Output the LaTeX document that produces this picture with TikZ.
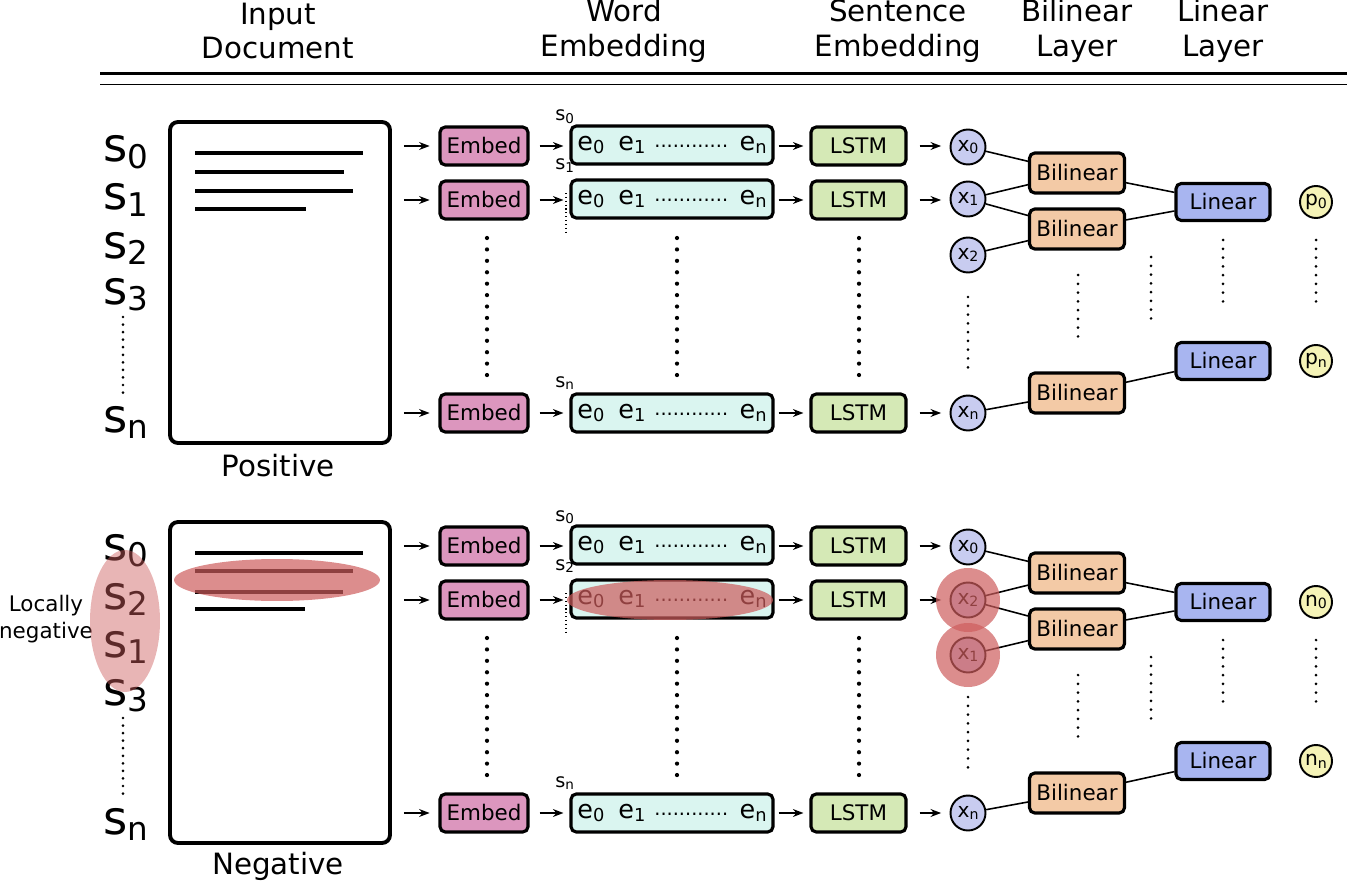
\documentclass[tikz,border=0pt]{standalone}
\usepackage{fontspec}
\setmainfont{DejaVu Sans}
\usetikzlibrary{arrows.meta}

\definecolor{embedcol}{RGB}{220,150,190}
\definecolor{wordcol}{RGB}{218,245,240}
\definecolor{lstmcol}{RGB}{213,233,182}
\definecolor{xcol}{RGB}{200,204,240}
\definecolor{bilcol}{RGB}{243,202,166}
\definecolor{lincol}{RGB}{168,181,240}
\definecolor{pcol}{RGB}{245,243,183}
\definecolor{hlcol}{RGB}{205,92,92}

\newcommand\fs[2]{\fontsize{#1}{#2}\selectfont}
\newcommand\sbx[1]{\raisebox{-0.25ex}{\scalebox{0.7}{#1}}}
\newcommand\wrow{e\sbx{0}\hspace{0.55em}e\sbx{1}\hspace{0.35em}\raisebox{0.2ex}{\fs{11}{11}............}\hspace{0.45em}e\sbx{n}}

\tikzset{
  head/.style={align=center, inner sep=0pt, font=\fs{16.7}{19.8}},
  box/.style={draw, line width=1.8pt, rounded corners=3pt, minimum height=0.76cm, inner sep=0pt, font=\fs{12.2}{14}},
  embedbox/.style={box, fill=embedcol, minimum width=1.76cm},
  wordbox/.style={box, fill=wordcol, minimum width=4.04cm, font=\fs{14.5}{16}},
  lstmbox/.style={box, fill=lstmcol, minimum width=1.9cm},
  bilbox/.style={box, fill=bilcol, minimum width=1.9cm, minimum height=0.8cm},
  linbox/.style={box, fill=lincol, minimum width=1.88cm, minimum height=0.74cm},
  docbox/.style={draw, line width=2.2pt, rounded corners=4.5pt, minimum width=4.4cm, minimum height=6.42cm},
  xnode/.style={circle, draw, line width=1.1pt, fill=xcol, minimum size=0.7cm, inner sep=0pt, font=\fs{11.5}{12}},
  pnode/.style={circle, draw, line width=1.1pt, fill=pcol, minimum size=0.64cm, inner sep=0pt, font=\fs{11.5}{12}},
  slabel/.style={anchor=base west, inner sep=0pt, font=\fs{26.5}{30}},
  wlabel/.style={anchor=base west, inner sep=0pt, font=\fs{11}{12}},
  doctext/.style={line width=2.2pt},
  arr/.style={-{Stealth[length=6pt,width=4.5pt]}, line width=0.8pt},
  toembed/.style={shorten <=6.8pt, shorten >=5pt},
  toword/.style={shorten <=5.7pt, shorten >=3.4pt},
  tolstm/.style={shorten <=2.3pt, shorten >=3.4pt},
  tox/.style={shorten <=6.8pt, shorten >=4.8pt},
  conn/.style={line width=0.9pt},
  bigdots/.style={line width=2.4pt, line cap=round, dash pattern=on 0pt off 6.5pt},
  smalldots/.style={line width=1.7pt, line cap=round, dash pattern=on 0pt off 5pt},
  sdots/.style={line width=1.7pt, line cap=round, dash pattern=on 0pt off 4.3pt},
  finedots/.style={line width=0.6pt, dash pattern=on 0.6pt off 1.6pt},
  hl/.style={fill=hlcol, fill opacity=0.7}
}

\begin{document}
\begin{tikzpicture}[x=0.02cm, y=-0.02cm]
  \useasboundingbox (0,0) rectangle (1347,892);

  % header
  \node[head] (hdoc) at (278,31) {Input\\Document};
  \node[head] (hword) at (624,31) {Word\\Embedding};
  \node[head] (hsent) at (898,31) {Sentence\\Embedding};
  \node[head] (hbil) at (1077,31) {Bilinear\\Layer};
  \node[head] (hlin) at (1223,31) {Linear\\Layer};
  \draw[line width=2pt] (100,73.5) -- (1347,73.5);
  \draw[line width=1pt] (100,84.5) -- (1347,84.5);

  % positive document
  \begin{scope}[every node/.style={slabel}]
    \node (s0) at (103,162) {s\sbx{0}};
    \node (s1) at (103,210) {s\sbx{1}};
    \node (s2) at (103,258) {s\sbx{2}};
    \node (s3) at (103,304) {s\sbx{3}};
    \node (sn) at (103,432) {s\sbx{n}};
  \end{scope}
  \draw[sdots] (123,317) -- (123,393);
  \node[docbox] (D) at (280,282.5) {};
  \draw[doctext] (195,153) -- (363,153);
  \draw[doctext] (195,172) -- (344,172);
  \draw[doctext] (195,191) -- (353,191);
  \draw[doctext] (195,209) -- (306,209);
  \node[head] (pos) at (278,466) {Positive};

  \begin{scope}[every node/.style={embedbox}]
    \node (E0) at (484,146) {Embed};
    \node (E1) at (484,200) {Embed};
    \node (En) at (484,413) {Embed};
  \end{scope}
  \begin{scope}[every node/.style={wordbox}]
    \node (W0) at (672,145) {\wrow};
    \node (W1) at (672,199) {\wrow};
    \node (Wn) at (672,413) {\wrow};
  \end{scope}
  \begin{scope}[every node/.style={wlabel}]
    \node (w0) at (555,121) {s\sbx{0}};
    \node (w1) at (555,170) {s\sbx{1}};
    \node (wn) at (555,387) {s\sbx{n}};
  \end{scope}
  \draw[finedots] (566,193) -- (566,232);
  \begin{scope}[every node/.style={lstmbox}]
    \node (M0) at (858.5,146) {LSTM};
    \node (M1) at (858.5,200) {LSTM};
    \node (Mn) at (858.5,413) {LSTM};
  \end{scope}
  \begin{scope}[every node/.style={xnode}]
    \node (X0) at (968,147) {x\sbx{0}};
    \node (X1) at (968,199) {x\sbx{1}};
    \node (X2) at (968,255) {x\sbx{2}};
    \node (Xn) at (968,413) {x\sbx{n}};
  \end{scope}
  \begin{scope}[every node/.style={bilbox}]
    \node (B1) at (1077,173) {Bilinear};
    \node (B2) at (1077,229) {Bilinear};
    \node (Bn) at (1077,393) {Bilinear};
  \end{scope}
  \begin{scope}[every node/.style={linbox}]
    \node (Q0) at (1223,202) {Linear};
    \node (Qn) at (1223,361) {Linear};
  \end{scope}
  \begin{scope}[every node/.style={pnode}]
    \node (P0) at (1316,202) {p\sbx{0}};
    \node (Pn) at (1316,361) {p\sbx{n}};
  \end{scope}

  \begin{scope}[every edge/.style={draw, arr}]
    \path (D.east |- E0) edge[toembed] (E0);
    \path (D.east |- E1) edge[toembed] (E1);
    \path (D.east |- En) edge[toembed] (En);
    \path (E0) edge[toword] (W0.west |- E0);
    \path (E1) edge[toword] (W1.west |- E1);
    \path (En) edge[toword] (Wn.west |- En);
    \path (W0.east |- M0) edge[tolstm] (M0);
    \path (W1.east |- M1) edge[tolstm] (M1);
    \path (Wn.east |- Mn) edge[tolstm] (Mn);
    \path (M0) edge[tox] (X0.west |- M0);
    \path (M1) edge[tox] (X1.west |- M1);
    \path (Mn) edge[tox] (Xn.west |- Mn);
  \end{scope}
  \begin{scope}[every edge/.style={draw, conn}]
    \path (X0) edge (B1);
    \path (X1) edge (B1);
    \path (X1) edge (B2);
    \path (X2) edge (B2);
    \path (Xn) edge (Bn);
    \path (B1) edge (Q0);
    \path (B2) edge (Q0);
    \path (Bn) edge (Qn);
  \end{scope}

  \draw[bigdots] (487,238) -- (487,383);
  \draw[bigdots] (677,238) -- (677,383);
  \draw[bigdots] (859,238) -- (859,383);
  \draw[smalldots] (968,297) -- (968,373);
  \draw[smalldots] (1078,275) -- (1078,343);
  \draw[smalldots] (1151,257) -- (1151,327);
  \draw[smalldots] (1223,240) -- (1223,310);
  \draw[smalldots] (1316,240) -- (1316,310);

  % negative document
  \begin{scope}[every node/.style={slabel}]
    \node (t0) at (103,560) {s\sbx{0}};
    \node (t2) at (103,609) {s\sbx{2}};
    \node (t1) at (103,657) {s\sbx{1}};
    \node (t3) at (103,705) {s\sbx{3}};
    \node (tn) at (103,834) {s\sbx{n}};
  \end{scope}
  \draw[sdots] (123,718) -- (123,795);
  \node[docbox] (Db) at (280,682.5) {};
  \draw[doctext] (195,553) -- (363,553);
  \draw[doctext] (195,571) -- (353,571);
  \draw[doctext] (195,592) -- (343,592);
  \draw[doctext] (195,609) -- (305,609);
  \node[head] (neg) at (278,866) {Negative};
  \node[align=center, inner sep=0pt, font=\fs{12.2}{15.3}] (loc) at (46,619) {Locally\\negative};

  \begin{scope}[every node/.style={embedbox}]
    \node (E0b) at (484,546) {Embed};
    \node (E1b) at (484,600) {Embed};
    \node (Enb) at (484,813) {Embed};
  \end{scope}
  \begin{scope}[every node/.style={wordbox}]
    \node (W0b) at (672,545) {\wrow};
    \node (W1b) at (672,599) {\wrow};
    \node (Wnb) at (672,813) {\wrow};
  \end{scope}
  \begin{scope}[every node/.style={wlabel}]
    \node (w0b) at (555,521) {s\sbx{0}};
    \node (w1b) at (555,570) {s\sbx{2}};
    \node (wnb) at (555,787) {s\sbx{n}};
  \end{scope}
  \draw[finedots] (566,593) -- (566,632);
  \begin{scope}[every node/.style={lstmbox}]
    \node (M0b) at (858.5,546) {LSTM};
    \node (M1b) at (858.5,600) {LSTM};
    \node (Mnb) at (858.5,813) {LSTM};
  \end{scope}
  \begin{scope}[every node/.style={xnode}]
    \node (X0b) at (968,547) {x\sbx{0}};
    \node (X2b) at (968,600) {x\sbx{2}};
    \node (X1b) at (968,655) {x\sbx{1}};
    \node (Xnb) at (968,813) {x\sbx{n}};
  \end{scope}
  \begin{scope}[every node/.style={bilbox}]
    \node (B1b) at (1077,573) {Bilinear};
    \node (B2b) at (1077,629) {Bilinear};
    \node (Bnb) at (1077,793) {Bilinear};
  \end{scope}
  \begin{scope}[every node/.style={linbox}]
    \node (Q0b) at (1223,602) {Linear};
    \node (Qnb) at (1223,761) {Linear};
  \end{scope}
  \begin{scope}[every node/.style={pnode}]
    \node (N0) at (1316,602) {n\sbx{0}};
    \node (Nn) at (1316,761) {n\sbx{n}};
  \end{scope}

  \begin{scope}[every edge/.style={draw, arr}]
    \path (Db.east |- E0b) edge[toembed] (E0b);
    \path (Db.east |- E1b) edge[toembed] (E1b);
    \path (Db.east |- Enb) edge[toembed] (Enb);
    \path (E0b) edge[toword] (W0b.west |- E0b);
    \path (E1b) edge[toword] (W1b.west |- E1b);
    \path (Enb) edge[toword] (Wnb.west |- Enb);
    \path (W0b.east |- M0b) edge[tolstm] (M0b);
    \path (W1b.east |- M1b) edge[tolstm] (M1b);
    \path (Wnb.east |- Mnb) edge[tolstm] (Mnb);
    \path (M0b) edge[tox] (X0b.west |- M0b);
    \path (M1b) edge[tox] (X2b.west |- M1b);
    \path (Mnb) edge[tox] (Xnb.west |- Mnb);
  \end{scope}
  \begin{scope}[every edge/.style={draw, conn}]
    \path (X0b) edge (B1b);
    \path (X2b) edge (B1b);
    \path (X2b) edge (B2b);
    \path (X1b) edge (B2b);
    \path (Xnb) edge (Bnb);
    \path (B1b) edge (Q0b);
    \path (B2b) edge (Q0b);
    \path (Bnb) edge (Qnb);
  \end{scope}

  \draw[bigdots] (487,638) -- (487,783);
  \draw[bigdots] (677,638) -- (677,783);
  \draw[bigdots] (859,638) -- (859,783);
  \draw[smalldots] (968,697) -- (968,773);
  \draw[smalldots] (1078,675) -- (1078,743);
  \draw[smalldots] (1151,657) -- (1151,727);
  \draw[smalldots] (1223,640) -- (1223,710);
  \draw[smalldots] (1316,640) -- (1316,710);

  % highlights
  \fill[hlcol, fill opacity=0.45] (125,621) ellipse [x radius=0.7cm, y radius=1.42cm];
  \fill[hl] (277,580) ellipse [x radius=2.06cm, y radius=0.42cm];
  \fill[hl] (670,600) ellipse [x radius=2.06cm, y radius=0.4cm];
  \fill[hl] (X2b) circle (0.64cm);
  \fill[hl] (X1b) circle (0.64cm);

\end{tikzpicture}
\end{document}
